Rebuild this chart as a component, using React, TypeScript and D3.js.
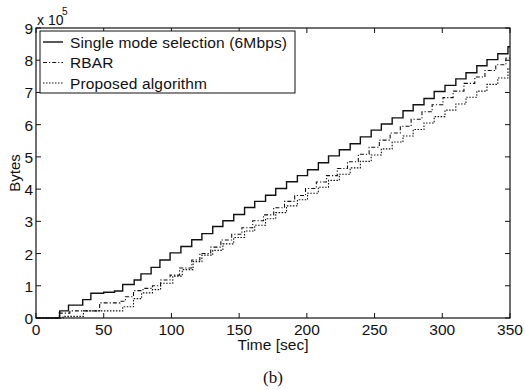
import React from 'react';
import * as d3 from 'd3';

// values, bytes in units of 1e5, time in sec
const singleMode: [number, number][] = [
  [0, 0], [17.5, 0.22], [24, 0.4], [34.5, 0.57], [40.5, 0.77], [50, 0.8], [58, 0.84],
  [64, 1.04], [72.5, 1.18], [77.5, 1.37], [85, 1.57], [91.5, 1.8], [99, 2.02],
  [107, 2.22], [115, 2.43], [122.5, 2.62], [130.5, 2.84], [138, 3.02], [146, 3.21],
  [154, 3.43], [161.5, 3.62], [169.5, 3.81], [177, 4.02], [185, 4.23], [193, 4.42],
  [200.5, 4.6], [208.5, 4.82], [216, 5.03], [224, 5.22], [232, 5.41], [239.5, 5.62],
  [247.5, 5.83], [255, 6.02], [263, 6.21], [271, 6.43], [278.5, 6.62], [286.5, 6.81],
  [294, 7.03], [302, 7.22], [310, 7.42], [317.5, 7.61], [325.5, 7.83], [333, 8.02],
  [341, 8.2], [348.5, 8.42], [350, 8.42],
];

const rbar: [number, number][] = [
  [0, 0], [17, 0.15], [25, 0.22], [47, 0.47], [62, 0.52], [66, 0.66], [72, 0.85],
  [79, 0.92], [86, 1.0], [92, 1.18], [99, 1.33], [106, 1.55], [115, 1.8], [121, 2.0],
  [129, 2.2], [136.5, 2.42], [144.5, 2.6], [152, 2.8], [160, 3.02], [168, 3.2],
  [175.5, 3.42], [183.5, 3.62], [191, 3.8], [199, 4.02], [207, 4.22], [214.5, 4.42],
  [222.5, 4.64], [230, 4.85], [238, 5.08], [246, 5.3], [253.5, 5.52], [261.5, 5.74],
  [269, 5.95], [277, 6.17], [285, 6.4], [292.5, 6.62], [300.5, 6.84], [308, 7.04],
  [316, 7.28], [324, 7.48], [331.5, 7.68], [339.5, 7.86], [347, 8.07], [350, 8.07],
];

const proposed: [number, number][] = [
  [0, 0], [20, 0.05], [35, 0.22], [64, 0.35], [72, 0.6], [78, 0.78], [86, 0.88],
  [92, 1.08], [101, 1.3], [108, 1.5], [116, 1.75], [122.5, 1.95], [130.5, 2.1],
  [138, 2.3], [146, 2.5], [154, 2.7], [161.5, 2.88], [169.5, 3.08], [177, 3.27],
  [185, 3.48], [193, 3.67], [200.5, 3.87], [208.5, 4.06], [216, 4.27], [224, 4.46],
  [232, 4.66], [239.5, 4.86], [247.5, 5.06], [255, 5.25], [263, 5.46], [271, 5.65],
  [278.5, 5.85], [286.5, 6.05], [294, 6.25], [302, 6.45], [310, 6.64], [317.5, 6.85],
  [325.5, 7.04], [333, 7.25], [341, 7.45], [348.5, 7.74], [350, 7.74],
];

const xTicks = [0, 50, 100, 150, 200, 250, 300, 350];
const yTicks = [0, 1, 2, 3, 4, 5, 6, 7, 8, 9];
const legendLabels = ['Single mode selection (6Mbps)', 'RBAR', 'Proposed algorithm'];

const W = 525;
const H = 390;
const left = 36, right = 510, top = 28, bottom = 318;
const font = '"Liberation Sans", Arial, sans-serif';

export default function App() {
  const x = d3.scaleLinear().domain([0, 350]).range([left, right]);
  const y = d3.scaleLinear().domain([0, 9]).range([bottom, top]);
  const line = d3.line<[number, number]>()
    .x(d => x(d[0]))
    .y(d => y(d[1]))
    .curve(d3.curveStepAfter);

  const series = [
    { data: singleMode, dash: 'none', width: 1.4 },
    { data: rbar, dash: '4,2,1.2,2', width: 1.1 },
    { data: proposed, dash: '1.5,1.5', width: 1.1 },
  ];

  return (
    <svg width={W} height={H} style={{ position: 'absolute', left: 0, top: 0, background: '#fff' }}>
      <rect width={W} height={H} fill="#fff" />
      {series.map((s, i) => (
        <path key={i} d={line(s.data) ?? ''} fill="none" stroke="#111"
          strokeWidth={s.width} strokeDasharray={s.dash} />
      ))}

      {/* box */}
      <rect x={left} y={top} width={right - left} height={bottom - top}
        fill="none" stroke="#111" strokeWidth={1.2} />

      {/* ticks */}
      {xTicks.map(t => (
        <g key={'x' + t}>
          <line x1={x(t)} x2={x(t)} y1={bottom} y2={bottom - 5} stroke="#111" />
          <line x1={x(t)} x2={x(t)} y1={top} y2={top + 5} stroke="#111" />
          <text x={x(t)} y={335} textAnchor="middle" fontFamily={font} fontSize={15.5}
            fill="#111">{t}</text>
        </g>
      ))}
      {yTicks.map(t => (
        <g key={'y' + t}>
          <line x1={left} x2={left + 5} y1={y(t)} y2={y(t)} stroke="#111" />
          <line x1={right} x2={right - 5} y1={y(t)} y2={y(t)} stroke="#111" />
          <text x={33} y={y(t) + 6} textAnchor="end" fontFamily={font} fontSize={15.5}
            fill="#111">{t}</text>
        </g>
      ))}

      {/* exponent */}
      <text x={37} y={25} fontFamily={font} fontSize={14} fill="#111">x 10</text>
      <text x={62} y={15} fontFamily={font} fontSize={10} fill="#111">5</text>

      {/* axis titles */}
      <text x={273} y={350} textAnchor="middle" fontFamily={font} fontSize={15.5}
        fill="#111">Time [sec]</text>
      <text transform={`translate(20,${(top + bottom) / 2}) rotate(-90)`} textAnchor="middle"
        fontFamily={font} fontSize={15} fill="#111">Bytes</text>
      <text x={273} y={383} textAnchor="middle" fontFamily='"Liberation Serif", serif'
        fontSize={17} fill="#111">(b)</text>

      {/* legend */}
      <rect x={40} y={31} width={255} height={62} fill="#fff" stroke="#111" strokeWidth={1} />
      {legendLabels.map((lab, i) => {
        const ly = 42 + i * 20.5;
        return (
          <g key={lab}>
            <line x1={43} x2={63} y1={ly} y2={ly} stroke="#111"
              strokeWidth={series[i].width} strokeDasharray={series[i].dash} />
            <text x={70} y={ly + 5.5} fontFamily={font} fontSize={15.5} letterSpacing={0.15}
              fill="#111">{lab}</text>
          </g>
        );
      })}
    </svg>
  );
}
